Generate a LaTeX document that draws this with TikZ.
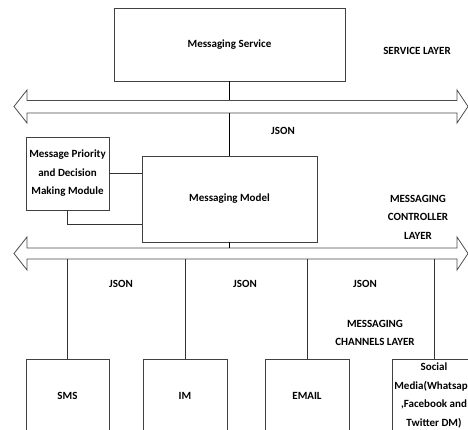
\documentclass[tikz,border=0pt]{standalone}
\usepackage{fontspec}
\setmainfont{Carlito}
\begin{document}
\begin{tikzpicture}[x=1pt,y=-1pt,
  lbl/.style={font=\fontsize{11}{18.5}\selectfont\bfseries, align=center, inner sep=0pt},
  box/.style={draw=black!75, line width=0.8pt, fill=white, inner sep=0pt, lbl},
  link/.style={draw=black!80, line width=0.8pt},
  trunk/.style={draw=black, line width=1.8pt},
  bus/.style={draw=black!70, line width=0.8pt, fill=white}
]
\useasboundingbox (0,0) rectangle (468,430);

% service layer
\node[box, minimum width=231pt, minimum height=73pt] (ms) at (229.5,44.5) {Messaging Service};
\node[lbl] (svcl) at (417,51) {SERVICE LAYER};

% upper bus
\draw[bus] (14,106.5) -- (27,90) -- (27,100.5) -- (457,100.5) -- (457,90) -- (468,106.5)
  -- (457,123) -- (457,113) -- (27,113) -- (27,123) -- cycle;
\coordinate (b1t) at (229.5,100.5);
\coordinate (b1b) at (229.5,113);

% controller layer
\node[box, minimum width=175pt, minimum height=86pt] (mm) at (229.5,199) {Messaging Model};
\node[box, minimum width=83pt, minimum height=73pt] (prio) at (67.5,173.5)
  {Message Priority\\and Decision\\Making Module};
\node[lbl] (json1) at (283,131) {JSON};
\node[lbl] (ctrl) at (418,217) {MESSAGING\\CONTROLLER\\LAYER};

% lower bus
\draw[bus] (14,253.5) -- (27,237) -- (27,248) -- (457,248) -- (457,237) -- (468,253.5)
  -- (457,270) -- (457,259) -- (27,259) -- (27,270) -- cycle;
\coordinate (b2t) at (229.5,248);
\coordinate (b2b) at (229.5,259);
\coordinate (pj) at (0,224);

% channel layer
\node[box, minimum width=83pt, minimum height=73pt] (sms) at (67.5,395.5) {SMS};
\node[box, minimum width=84pt, minimum height=73pt] (im) at (185,395.5) {IM};
\node[box, minimum width=84pt, minimum height=73pt] (email) at (307,395.5) {EMAIL};
\node[box, minimum width=84pt, minimum height=73pt] (soc) at (434,395.5)
  {Social\\Media(Whatsapp\\,Facebook and\\Twitter DM)};
\node[lbl] (json2) at (121,284) {JSON};
\node[lbl] (json3) at (245,284) {JSON};
\node[lbl] (json4) at (365,284) {JSON};
\node[lbl] (chl) at (375,333) {MESSAGING\\CHANNELS LAYER};

% connectors
\draw[trunk] (ms.south) -- (b1t);
\draw[trunk] (b1b) -- (mm.north);
\draw[trunk, line width=1.2pt] (mm.south) -- (b2t);
\draw[link] (prio.east) -- (prio.east -| mm.west);
\draw[link] (prio.south) |- (pj -| mm.west);
\draw[link] (sms.north |- b2b) -- (sms.north);
\draw[link] (im.north |- b2b) -- (im.north);
\draw[link] (email.north |- b2b) -- (email.north);
\draw[link] (soc.north |- b2b) -- (soc.north);
\end{tikzpicture}
\end{document}
